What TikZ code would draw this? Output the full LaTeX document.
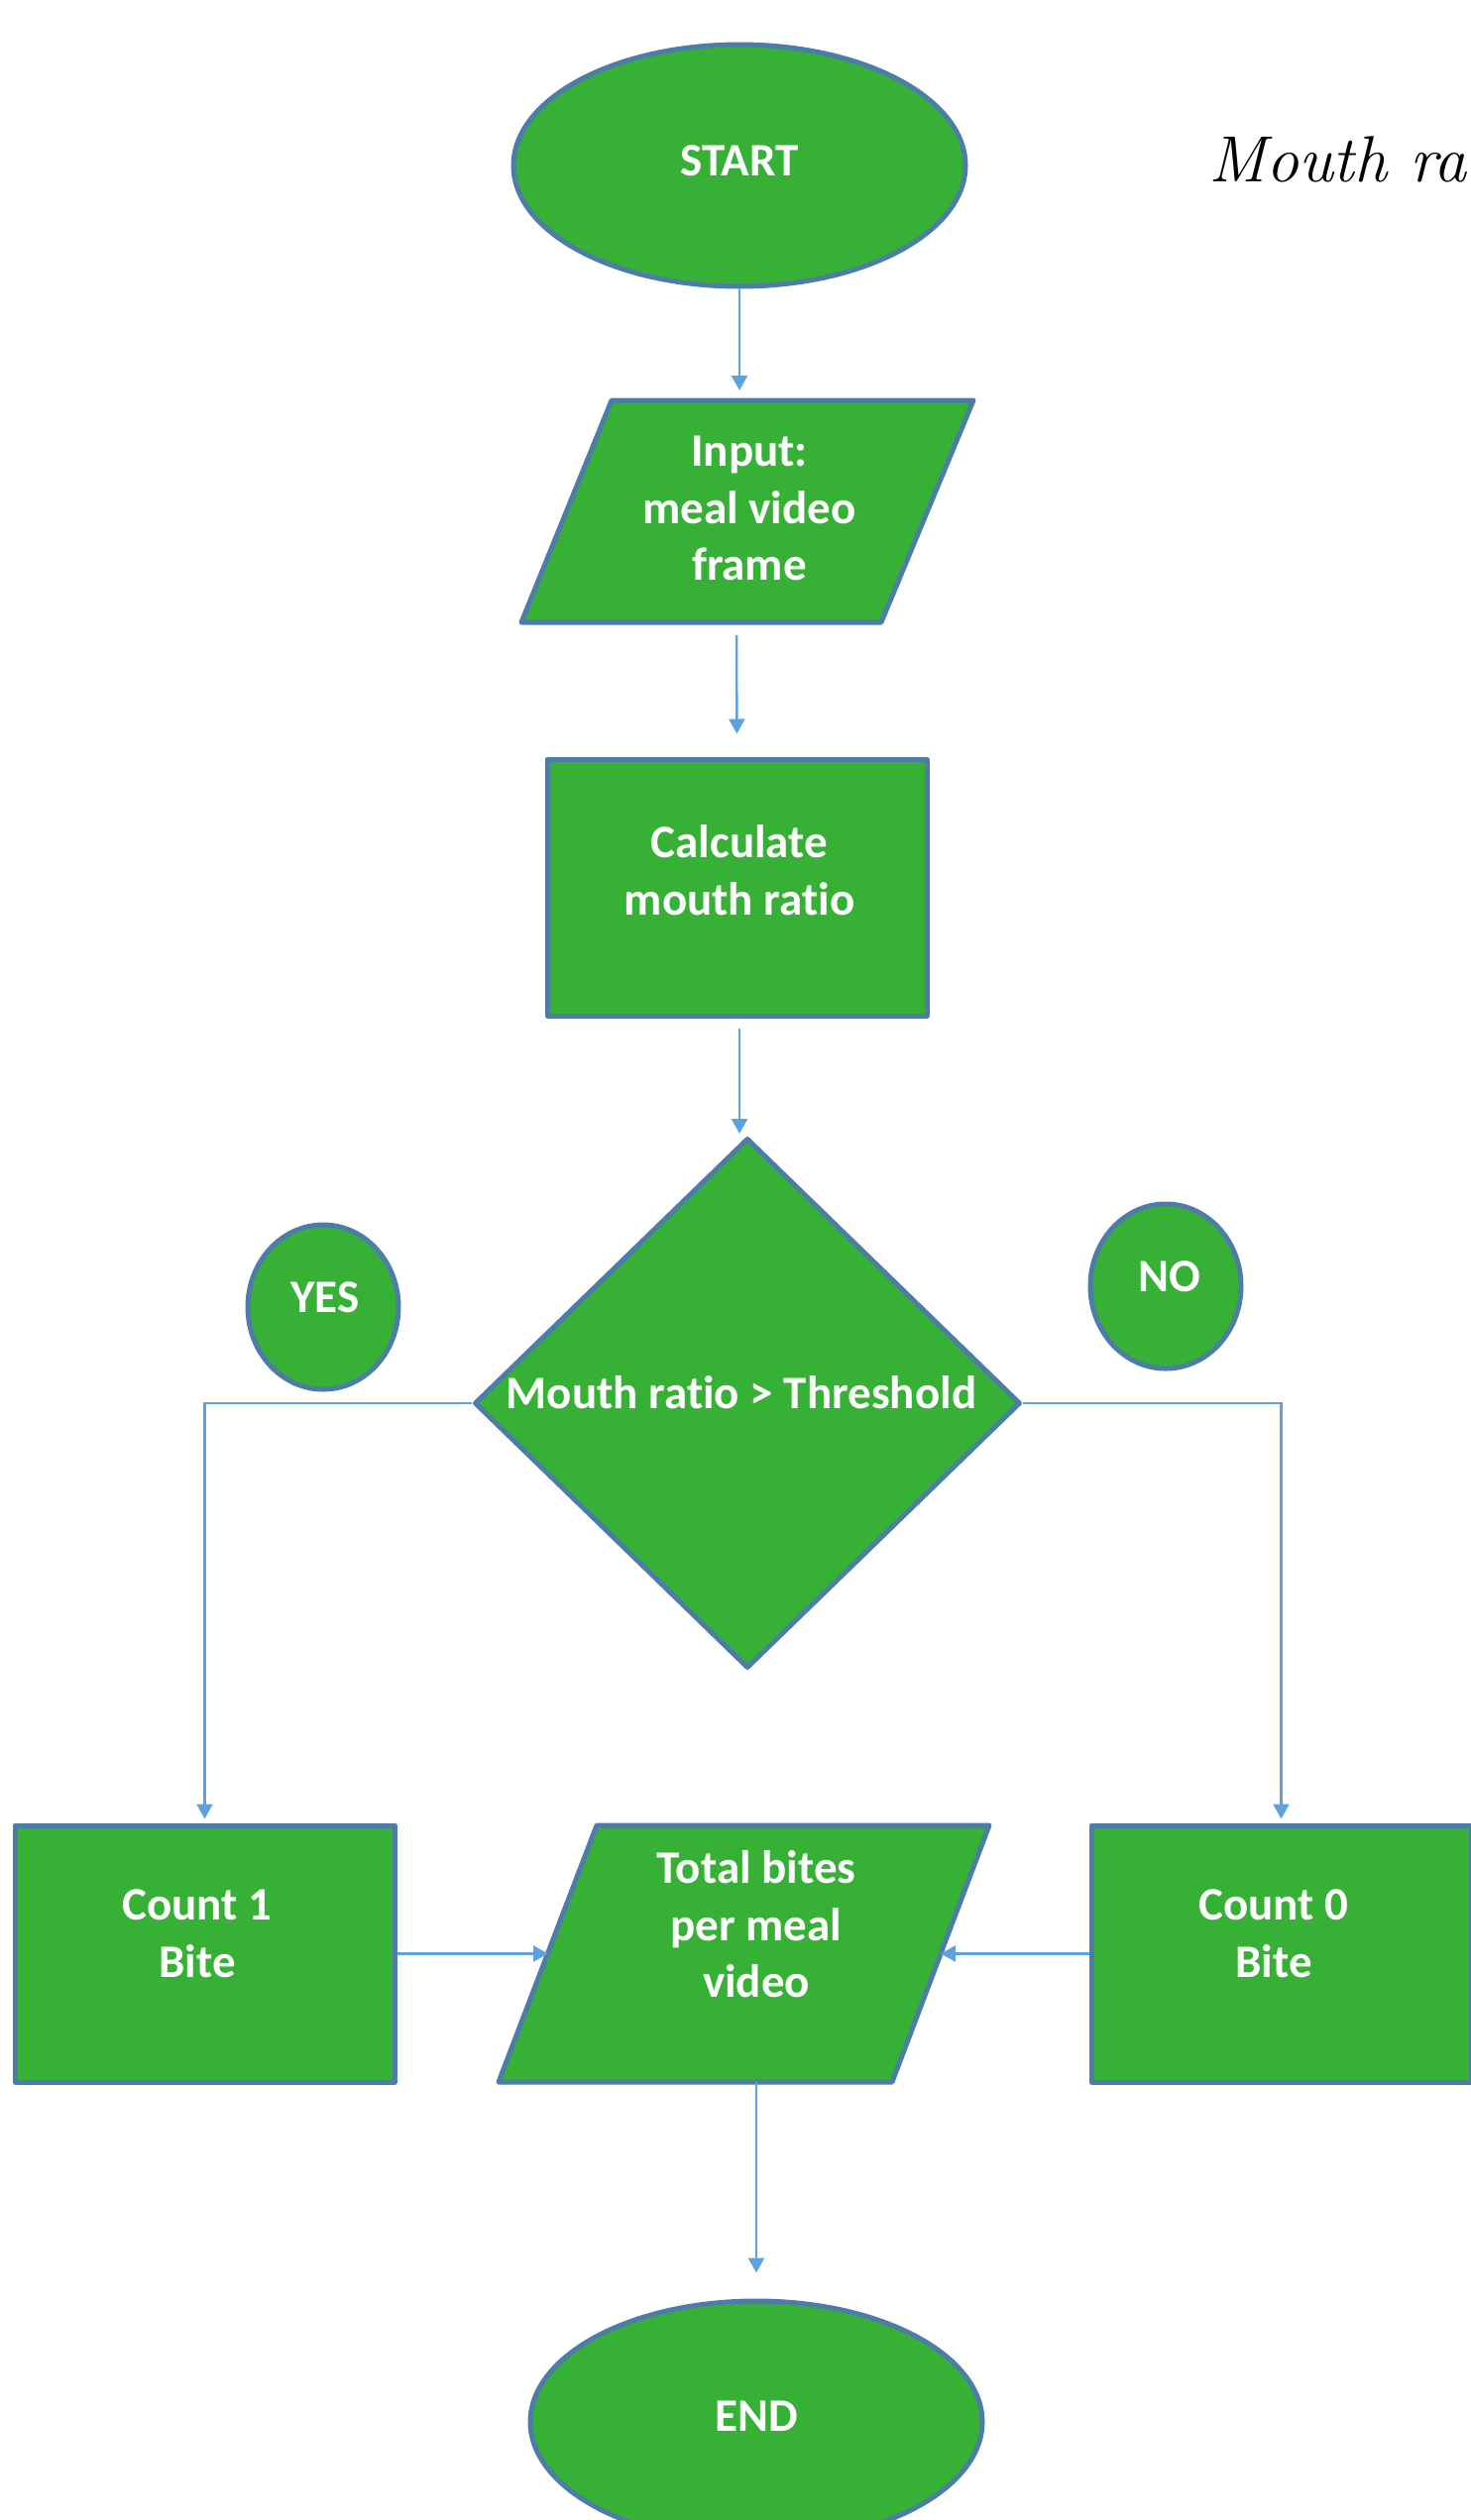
\documentclass[tikz,border=0pt]{standalone}
\usepackage{fontspec}
\setmainfont{Carlito}[Ligatures={NoCommon}]
\newfontfamily\lmfont{Latin Modern Roman}
\usetikzlibrary{shapes.geometric,arrows.meta}
\definecolor{boxgreen}{HTML}{37B135}
\definecolor{boxedge}{HTML}{4D7CA8}
\definecolor{connblue}{HTML}{5DA2DE}
\tikzset{
  shapebox/.style={draw=boxedge,fill=boxgreen,line width=5pt,line join=round,inner sep=0pt},
  txt/.style={text=white,font=\fontsize{47}{57.6}\selectfont\bfseries,align=center,inner sep=0pt},
  conn/.style={draw=connblue,line width=2.5pt,-{Triangle[length=15pt,width=16pt]}},
}
\begin{document}
\begin{tikzpicture}[x=1pt,y=-1pt]
\useasboundingbox (0,0) rectangle (1483,2543);

% START
\node[shapebox,ellipse,minimum width=456pt,minimum height=244pt] (start) at (746,167) {};
\node[txt] (starttxt) at (746,162) {START};

% Input parallelogram
\coordinate (in1) at (617,404);
\coordinate (in2) at (982,404);
\coordinate (in3) at (889,628);
\coordinate (in4) at (526,628);
\draw[shapebox] (in1) -- (in2) -- (in3) -- (in4) -- cycle;
\node[txt] (input) at (756,513) {Input:\\meal video\\frame};
\coordinate (inTop) at (746,394);
\coordinate (inBot) at (743,641);

% Calculate
\node[shapebox,rectangle,minimum width=383pt,minimum height=259pt] (calc) at (743.5,895.5) {};
\node[txt] (calctxt) at (746,878) {Calculate\\mouth ratio};
\coordinate (calcBot) at (746,1038);

% Decision
\node[shapebox,diamond,minimum width=551pt,minimum height=535pt] (dec) at (754,1416) {};
\node[txt] (dectxt) at (748,1405) {Mouth ratio > Threshold};
\coordinate (decTop) at (746,1144);

% YES / NO
\node[shapebox,ellipse,minimum width=152pt,minimum height=166pt] (yes) at (326,1319) {};
\node[txt] (yestxt) at (328,1309) {YES};
\node[shapebox,ellipse,minimum width=152pt,minimum height=166pt] (no) at (1176,1298) {};
\node[txt] (notxt) at (1180,1288) {NO};

% Count boxes
\node[shapebox,rectangle,minimum width=383pt,minimum height=259pt] (c1) at (206.5,1971.5) {};
\node[txt] (c1txt) at (199,1951) {Count 1\\Bite};
\node[shapebox,rectangle,minimum width=383pt,minimum height=259pt] (c0) at (1292.5,1971.5) {};
\node[txt] (c0txt) at (1285,1951) {Count 0\\Bite};

% Total parallelogram
\coordinate (t1) at (602,1842);
\coordinate (t2) at (998,1842);
\coordinate (t3) at (900,2101);
\coordinate (t4) at (503,2101);
\draw[shapebox] (t1) -- (t2) -- (t3) -- (t4) -- cycle;
\node[txt] (total) at (763,1942) {Total bites\\per meal\\video};
\coordinate (totL) at (553,1971.5);
\coordinate (totR) at (949,1971.5);
\coordinate (totB) at (763,2101);

% END
\node[shapebox,ellipse,minimum width=456pt,minimum height=244pt] (end) at (763,2444) {};
\node[txt] (endtxt) at (763,2438) {END};

% Formula fragment
\node[anchor=base west,inner sep=0pt,font=\lmfont\itshape\fontsize{66}{74}\selectfont] (mr) at (1219,183) {Mouth ra};

% Connectors
\draw[conn] (start) -- (inTop);
\draw[conn,shorten >=23pt] (inBot) -- (calc.north);
\draw[conn] (calcBot) -- (decTop);
\draw[conn] (dec.west) -| ([yshift=4pt]c1.north);
\draw[conn] (dec.east) -| ([yshift=4pt]c0.north);
\draw[conn] (c1.east) -- (totL);
\draw[conn] (c0.west) -- (totR);
\draw[conn,shorten >=26pt] (totB) -- (end.north);
\end{tikzpicture}
\end{document}
